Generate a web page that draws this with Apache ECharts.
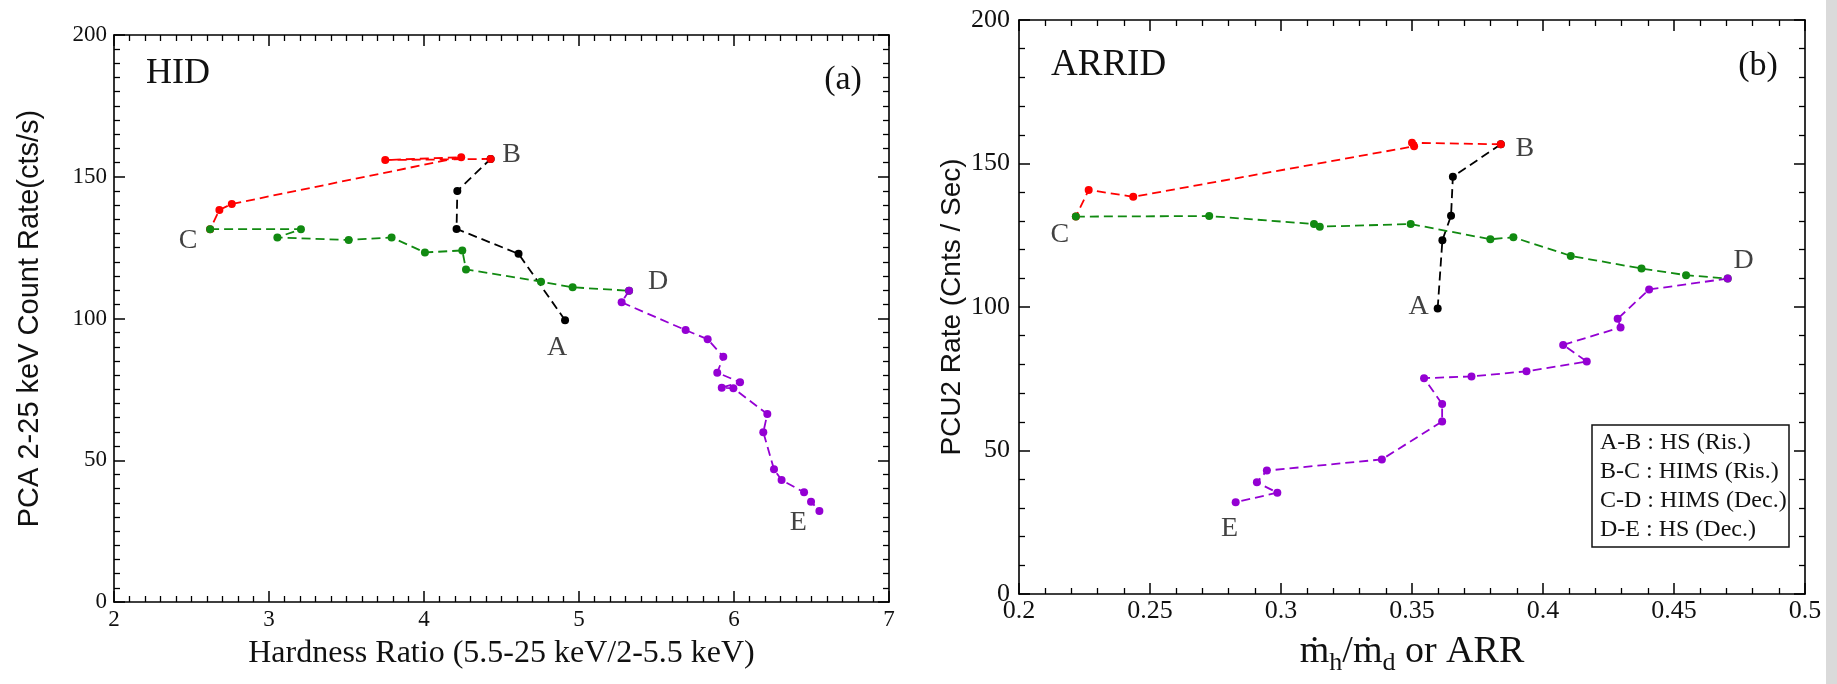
<!DOCTYPE html>
<html>
<head>
<meta charset="utf-8">
<script src="https://cdn.jsdelivr.net/npm/echarts@6/dist/echarts.min.js"></script>
<style>
html,body{margin:0;padding:0;background:#fff;}
#chart{width:1837px;height:684px;}
</style>
</head>
<body>
<div id="chart"></div>
<script>
// ---------- Data: panel (a) HID ----------
const hidAB_x = [4.91, 4.61, 4.21, 4.215, 4.43];
const hidAB_y = [99.4, 122.8, 131.6, 145.0, 156.3];
const hidBC_x = [4.43, 3.75, 4.24, 2.76, 2.68, 2.62];
const hidBC_y = [156.3, 155.9, 156.9, 140.4, 138.3, 131.5];
const hidCD_x = [2.62, 3.206, 3.054, 3.514, 3.791, 4.006, 4.247, 4.271, 4.755, 4.959, 5.323];
const hidCD_y = [131.5, 131.5, 128.6, 127.7, 128.6, 123.3, 124.0, 117.3, 113.0, 111.0, 109.8];
const hidDE_x = [5.323, 5.275, 5.688, 5.830, 5.931, 5.892, 6.039, 5.921, 5.996, 6.215, 6.189, 6.258, 6.307, 6.452, 6.497, 6.551];
const hidDE_y = [109.8, 105.7, 95.9, 92.7, 86.5, 80.9, 77.5, 75.6, 75.4, 66.3, 59.9, 46.8, 43.0, 38.7, 35.4, 32.1];

// ---------- Data: panel (b) ARRID ----------
const arrAB_x = [0.3598, 0.3616, 0.3649, 0.3656, 0.3839];
const arrAB_y = [99.5, 123.3, 131.8, 145.4, 156.7];
const arrBC_x = [0.3839, 0.3500, 0.3508, 0.2436, 0.2266, 0.2217];
const arrBC_y = [156.7, 157.2, 156.0, 138.4, 140.8, 131.5];
const arrCD_x = [0.2217, 0.2726, 0.3126, 0.3148, 0.3495, 0.3799, 0.3887, 0.4106, 0.4376, 0.4546, 0.4705];
const arrCD_y = [131.5, 131.7, 128.9, 128.0, 128.9, 123.6, 124.3, 117.8, 113.4, 111.1, 109.9];
const arrDE_x = [0.4705, 0.4405, 0.4285, 0.4296, 0.4077, 0.4167, 0.3937, 0.3727, 0.3546, 0.3615, 0.3615, 0.3385, 0.2946, 0.2908, 0.2986, 0.2827];
const arrDE_y = [109.9, 106.1, 95.9, 92.9, 86.8, 81.0, 77.6, 75.8, 75.2, 66.2, 60.1, 46.9, 43.0, 38.9, 35.3, 32.0];

// ---------- Text ----------
const stateLetters = ['A', 'B', 'C', 'D', 'E'];
const legendLines = ['A-B : HS (Ris.)', 'B-C : HIMS (Ris.)', 'C-D : HIMS (Dec.)', 'D-E : HS (Dec.)'];
const hidXTicks = {min: 2, max: 7, interval: 1};
const hidYTicks = {min: 0, max: 200, interval: 50};
const arrXTicks = {min: 0.2, max: 0.5, interval: 0.05};
const arrYTicks = {min: 0, max: 200, interval: 50};

const SERIF = "'Liberation Serif','DejaVu Serif',serif";
const SANS = "'Liberation Sans','DejaVu Sans',sans-serif";
const COLORS = {AB: '#000000', BC: '#ff0000', CD: '#118a11', DE: '#9400d3'};

function pairs(xs, ys) { return xs.map((x, i) => [x, ys[i]]); }

function lineSeries(name, xs, ys, color, ai) {
  return {
    type: 'line', name: name, xAxisIndex: ai * 2, yAxisIndex: ai * 2,
    data: pairs(xs, ys), symbol: 'circle', symbolSize: 8, showSymbol: true,
    itemStyle: {color: color}, lineStyle: {color: color, width: 1.8, type: [9, 5]},
    emphasis: {disabled: true}, z: 3
  };
}

function letterSeries(ai, pts, offsets) {
  return {
    type: 'scatter', xAxisIndex: ai * 2, yAxisIndex: ai * 2, symbolSize: 0, z: 5,
    data: pts.map((p, i) => ({
      value: p, name: stateLetters[i],
      label: {show: true, formatter: '{b}', position: 'inside', offset: offsets[i],
        fontFamily: SERIF, fontSize: 28, color: '#111'}
    })),
    emphasis: {disabled: true}
  };
}

function mainX(grid, t, minor, fs, margin, name, nameGap, nameStyle) {
  return {
    gridIndex: grid, type: 'value', position: 'bottom', min: t.min, max: t.max, interval: t.interval,
    axisLine: {onZero: false, lineStyle: {color: '#000', width: 1.6}},
    axisTick: {inside: true, length: 11, lineStyle: {color: '#000', width: 1.5}},
    minorTick: {show: true, splitNumber: minor, length: 6, lineStyle: {color: '#000', width: 1.3}},
    splitLine: {show: false}, minorSplitLine: {show: false},
    axisLabel: {fontFamily: SERIF, fontSize: fs, color: '#111', margin: margin, showMinLabel: true, showMaxLabel: true},
    name: name, nameLocation: 'middle', nameGap: nameGap, nameTextStyle: nameStyle
  };
}
function mirrorX(grid, t, minor) {
  return {
    gridIndex: grid, type: 'value', position: 'top', min: t.min, max: t.max, interval: t.interval,
    axisLine: {onZero: false, lineStyle: {color: '#000', width: 1.6}},
    axisTick: {inside: true, length: 11, lineStyle: {color: '#000', width: 1.5}},
    minorTick: {show: true, splitNumber: minor, length: 6, lineStyle: {color: '#000', width: 1.3}},
    splitLine: {show: false}, axisLabel: {show: false}
  };
}
function mainY(grid, t, minor, fs, margin, name, nameGap, nameStyle) {
  return {
    gridIndex: grid, type: 'value', position: 'left', min: t.min, max: t.max, interval: t.interval,
    axisLine: {onZero: false, lineStyle: {color: '#000', width: 1.6}},
    axisTick: {inside: true, length: 11, lineStyle: {color: '#000', width: 1.5}},
    minorTick: {show: true, splitNumber: minor, length: 6, lineStyle: {color: '#000', width: 1.3}},
    splitLine: {show: false}, minorSplitLine: {show: false},
    axisLabel: {fontFamily: SERIF, fontSize: fs, color: '#111', margin: margin, showMinLabel: true, showMaxLabel: true},
    name: name, nameLocation: 'middle', nameGap: nameGap, nameTextStyle: nameStyle
  };
}
function mirrorY(grid, t, minor) {
  return {
    gridIndex: grid, type: 'value', position: 'right', min: t.min, max: t.max, interval: t.interval,
    axisLine: {onZero: false, lineStyle: {color: '#000', width: 1.6}},
    axisTick: {inside: true, length: 11, lineStyle: {color: '#000', width: 1.5}},
    minorTick: {show: true, splitNumber: minor, length: 6, lineStyle: {color: '#000', width: 1.3}},
    splitLine: {show: false}, axisLabel: {show: false}
  };
}

const chart = echarts.init(document.getElementById('chart'), null, {renderer: 'canvas'});

const hidVertices = [
  [hidAB_x[0], hidAB_y[0]], [hidBC_x[0], hidBC_y[0]], [hidCD_x[0], hidCD_y[0]],
  [hidDE_x[0], hidDE_y[0]], [hidDE_x[hidDE_x.length - 1], hidDE_y[hidDE_y.length - 1]]
];
const arrVertices = [
  [arrAB_x[0], arrAB_y[0]], [arrBC_x[0], arrBC_y[0]], [arrCD_x[0], arrCD_y[0]],
  [arrDE_x[0], arrDE_y[0]], [arrDE_x[arrDE_x.length - 1], arrDE_y[arrDE_y.length - 1]]
];

const option = {
  animation: false,
  backgroundColor: '#ffffff',
  grid: [
    {left: 114, top: 35, width: 775, height: 567, containLabel: false},
    {left: 1019, top: 20, width: 786, height: 574, containLabel: false}
  ],
  xAxis: [
    mainX(0, hidXTicks, 10, 23, 6, 'Hardness Ratio (5.5-25 keV/2-5.5 keV)', 36,
      {fontFamily: SERIF, fontSize: 32, color: '#111'}),
    mirrorX(0, hidXTicks, 10),
    mainX(1, arrXTicks, 5, 26, 4, 'ṁ{sub|h}/ṁ{sub|d} or ARR', 34,
      {fontFamily: SERIF, fontSize: 38, color: '#111',
       rich: {sub: {fontFamily: SERIF, fontSize: 26, color: '#111', verticalAlign: 'bottom', padding: [22, 0, 0, 0]}}}),
    mirrorX(1, arrXTicks, 5)
  ],
  yAxis: [
    mainY(0, hidYTicks, 10, 23, 7, 'PCA 2-25 keV Count Rate(cts/s)', 70,
      {fontFamily: SANS, fontSize: 29, color: '#111'}),
    mirrorY(0, hidYTicks, 10),
    mainY(1, arrYTicks, 5, 26, 9, 'PCU2 Rate (Cnts / Sec)', 53,
      {fontFamily: SANS, fontSize: 28, color: '#111'}),
    mirrorY(1, arrYTicks, 5)
  ],
  series: [
    lineSeries('HID A-B', hidAB_x, hidAB_y, COLORS.AB, 0),
    lineSeries('HID B-C', hidBC_x, hidBC_y, COLORS.BC, 0),
    lineSeries('HID C-D', hidCD_x, hidCD_y, COLORS.CD, 0),
    lineSeries('HID D-E', hidDE_x, hidDE_y, COLORS.DE, 0),
    letterSeries(0, hidVertices, [[-8, 27], [21, -4], [-22, 11], [29, -9], [-21, 12]]),
    lineSeries('ARRID A-B', arrAB_x, arrAB_y, COLORS.AB, 1),
    lineSeries('ARRID B-C', arrBC_x, arrBC_y, COLORS.BC, 1),
    lineSeries('ARRID C-D', arrCD_x, arrCD_y, COLORS.CD, 1),
    lineSeries('ARRID D-E', arrDE_x, arrDE_y, COLORS.DE, 1),
    letterSeries(1, arrVertices, [[-19, -2], [24, 4], [-16, 18], [16, -18], [-6, 26]])
  ],
  graphic: [
    {type: 'rect', left: 1826, top: 0, shape: {width: 11, height: 684}, style: {fill: '#dadada'}, silent: true},
    {type: 'text', x: 146, y: 74, style: {text: 'HID', fontFamily: SERIF, fontSize: 36, fill: '#111', verticalAlign: 'middle', align: 'left'}},
    {type: 'text', x: 843, y: 80, style: {text: '(a)', fontFamily: SERIF, fontSize: 34, fill: '#111', verticalAlign: 'middle', align: 'center'}},
    {type: 'text', x: 1051, y: 65, style: {text: 'ARRID', fontFamily: SERIF, fontSize: 37, fill: '#111', verticalAlign: 'middle', align: 'left'}},
    {type: 'text', x: 1758, y: 66, style: {text: '(b)', fontFamily: SERIF, fontSize: 34, fill: '#111', verticalAlign: 'middle', align: 'center'}},
    {type: 'rect', x: 1592, y: 425, shape: {width: 197, height: 122}, style: {fill: '#fff', stroke: '#111', lineWidth: 1.5}, z: 10},
    {type: 'text', x: 1600, y: 443, z: 11, style: {text: legendLines[0], fontFamily: SERIF, fontSize: 24, fill: '#111', verticalAlign: 'middle'}},
    {type: 'text', x: 1600, y: 472, z: 11, style: {text: legendLines[1], fontFamily: SERIF, fontSize: 24, fill: '#111', verticalAlign: 'middle'}},
    {type: 'text', x: 1600, y: 501, z: 11, style: {text: legendLines[2], fontFamily: SERIF, fontSize: 24, fill: '#111', verticalAlign: 'middle'}},
    {type: 'text', x: 1600, y: 530, z: 11, style: {text: legendLines[3], fontFamily: SERIF, fontSize: 24, fill: '#111', verticalAlign: 'middle'}}
  ]
};
chart.setOption(option);
</script>
</body>
</html>
